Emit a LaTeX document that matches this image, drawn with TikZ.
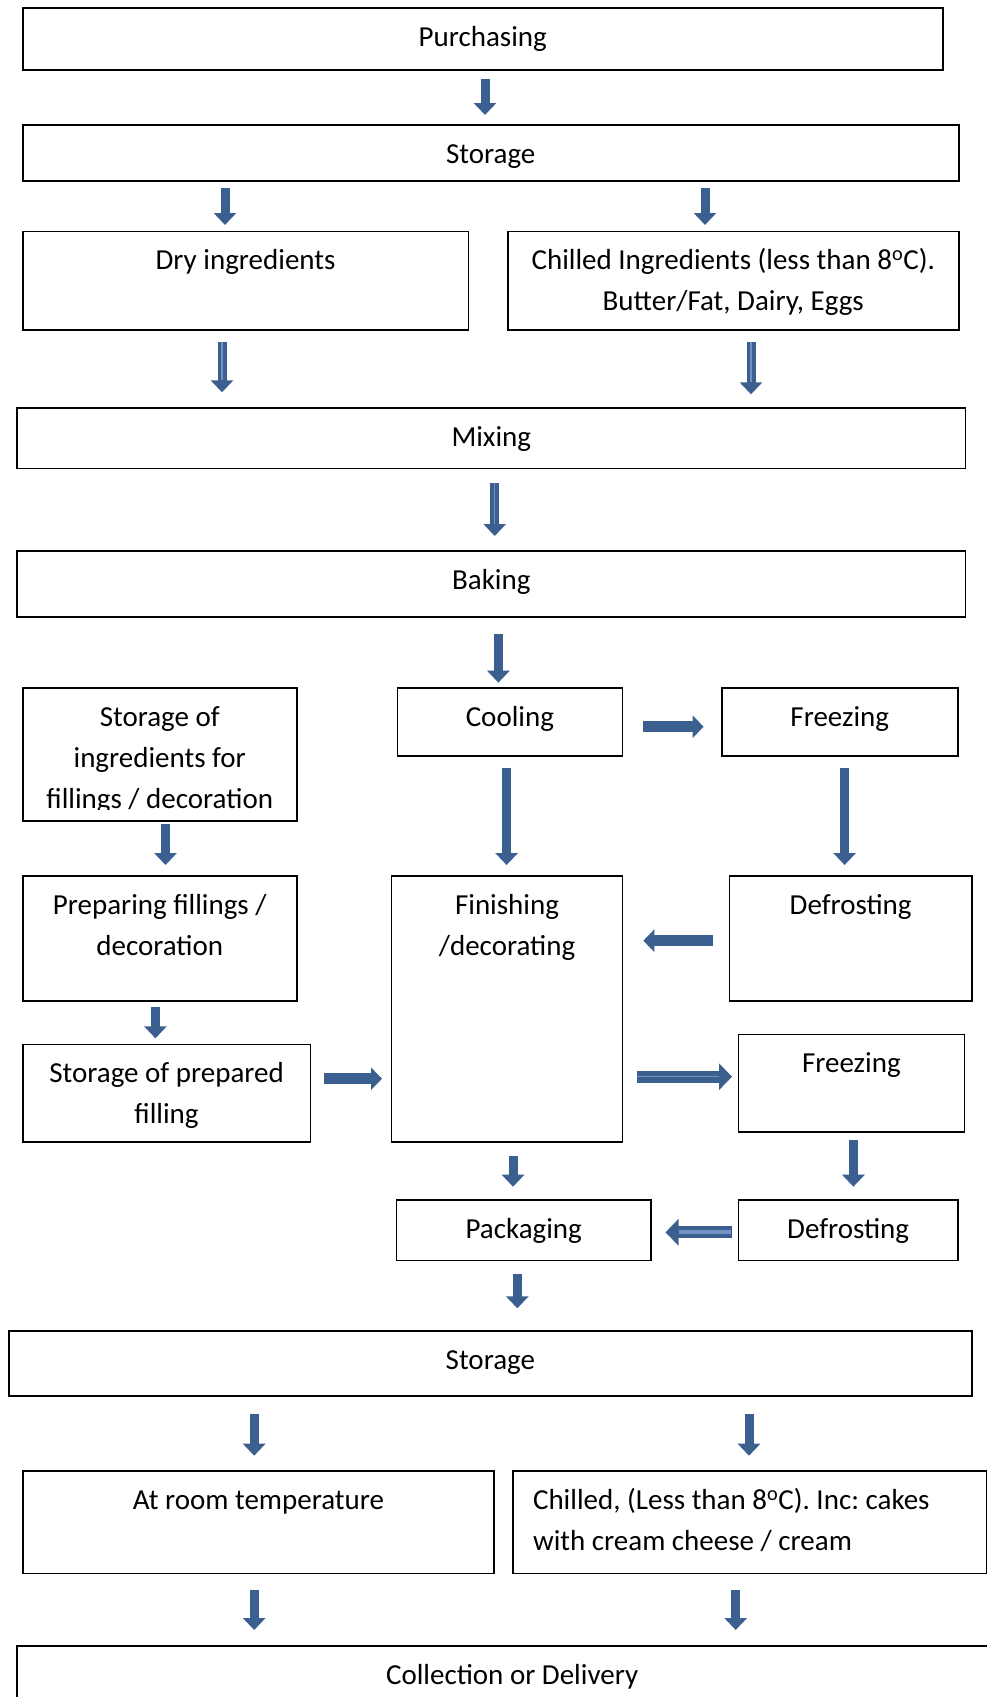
\documentclass[tikz,border=0pt]{standalone}
\usepackage{fontspec}
\setmainfont{Carlito}
\usetikzlibrary{arrows.meta}
\definecolor{ablue}{RGB}{59,95,143}
\definecolor{alight}{RGB}{112,146,196}
\frenchspacing
\newcommand\fb[6]{\node[boxst] (#1) at (#2,#3) {\parbox[t][#5pt][t]{#4pt}{#6}};}
\newcommand\fl{\rule{0pt}{38.5pt}}
\begin{document}
\begin{tikzpicture}[x=1pt,y=-1pt,
  boxst/.style={draw=black, line width=1.5pt, inner sep=0pt, anchor=north west, font=\fontsize{29pt}{41pt}\selectfont},
  barrow/.style={draw=ablue, line width=9pt, -{Triangle[width=22pt,length=12pt]}},
  harrow/.style={draw=ablue, line width=10.5pt, -{Triangle[width=22pt,length=11pt]}},
  warrow/.style={draw=ablue, line width=12pt, -{Triangle[width=26pt,length=13pt]}},
  stripe/.style={draw=alight, line width=1.5pt}]
\clip (0,0) rectangle (987,1697);
\fill[white] (0,0) rectangle (987,1697);
% boxes
\fb{purch}{22}{7}{920}{62}{\centering\fl Purchasing}
\fb{stor1}{22}{124}{936}{56}{\centering\fl Storage}
\fb{dry}{22}{230.7}{445.6}{98.6}{\centering\fl Dry ingredients}
\fb{chill}{507}{230.7}{451}{98.6}{\centering\fl Chilled Ingredients (less than 8\textsuperscript{o}C).\\Butter/Fat, Dairy, Eggs}
\fb{mix}{16.4}{407.3}{948.3}{60.4}{\centering\fl Mixing}
\fb{bake}{16.4}{550}{948.3}{66}{\centering\fl Baking}
\fb{sif}{22}{687}{274}{133}{\mbox{}}
\begin{scope}
\clip ([yshift=12pt]sif.south west) rectangle (sif.north east);
\node[boxst, draw=none] (siftext) at (sif.north west) {\parbox[t][133pt][t]{274pt}{\centering\fl Storage of\\ingredients for\\fillings / decoration}};
\end{scope}
\fb{cool}{396.5}{687}{225.3}{68.3}{\centering\fl Cooling}
\fb{frz1}{721}{687}{236}{68.3}{\centering\fl Freezing}
\fb{prep}{22}{875}{274}{125}{\centering\fl Preparing fillings /\\decoration}
\fb{fin}{390.8}{875}{231}{266.3}{\centering\fl Finishing\\/decorating}
\fb{def1}{728.8}{875}{242.2}{125}{\centering\fl Defrosting}
\fb{spf}{22}{1043.7}{287.6}{97.6}{\centering\fl Storage of prepared\\filling}
\fb{frz2}{737.6}{1033.7}{226}{97.3}{\centering\fl Freezing}
\fb{pack}{395.8}{1199.3}{254.2}{60.4}{\centering\fl Packaging}
\fb{def2}{737.6}{1199.3}{219.6}{60.4}{\centering\fl Defrosting}
\fb{stor2}{8.2}{1330}{962.8}{65}{\centering\fl Storage}
\fb{room}{22}{1470.3}{471.4}{102.4}{\centering\fl At room temperature}
\fb{chl2}{512.3}{1470.3}{473.5}{102.4}{\raggedright\leftskip=20pt\fl Chilled, (Less than 8\textsuperscript{o}C). Inc: cakes\\with cream cheese / cream}
\fb{coll}{16.4}{1645}{990}{80}{\centering\fl Collection or Delivery}
% arrow guide coordinates
\coordinate (x1) at (485,0);
\coordinate (x2) at (225,0);
\coordinate (x3) at (705,0);
\coordinate (x4) at (222,0);
\coordinate (x5) at (751,0);
\coordinate (x6) at (494.7,0);
\coordinate (x7) at (498.4,0);
\coordinate (y8) at (0,726.7);
\coordinate (x9) at (506.6,0);
\coordinate (x10) at (844.6,0);
\coordinate (x11) at (165.5,0);
\coordinate (y12) at (0,940.7);
\coordinate (x13) at (155.4,0);
\coordinate (y14) at (0,1078.7);
\coordinate (y15) at (0,1076.7);
\coordinate (x16) at (513,0);
\coordinate (x17) at (853.4,0);
\coordinate (y18) at (0,1232.3);
\coordinate (x19) at (517.3,0);
\coordinate (x20) at (254.2,0);
\coordinate (x21) at (749,0);
\coordinate (x22) at (254.2,0);
\coordinate (x23) at (735.7,0);
% arrows
\draw[barrow, shorten <=8pt, shorten >=9pt] (purch.south -| x1) -- (stor1.north -| x1);
\draw[barrow, shorten <=6pt, shorten >=5.7pt] (stor1.south -| x2) -- (dry.north -| x2);
\draw[barrow, shorten <=6pt, shorten >=5.7pt] (stor1.south -| x3) -- (chill.north -| x3);
\draw[barrow, shorten <=10.7pt, shorten >=15pt] (dry.south -| x4) -- (mix.north -| x4);
\draw[stripe, shorten <=10.7pt, shorten >=27pt] (dry.south -| x4) -- (mix.north -| x4);
\draw[barrow, shorten <=10.7pt, shorten >=13pt] (chill.south -| x5) -- (mix.north -| x5);
\draw[stripe, shorten <=10.7pt, shorten >=25pt] (chill.south -| x5) -- (mix.north -| x5);
\draw[barrow, shorten <=14pt, shorten >=14pt] (mix.south -| x6) -- (bake.north -| x6);
\draw[stripe, shorten <=14pt, shorten >=26pt] (mix.south -| x6) -- (bake.north -| x6);
\draw[barrow, shorten <=16.7pt, shorten >=4.3pt] (bake.south -| x7) -- (cool.north -| x7);
\draw[harrow, shorten <=20pt, shorten >=17.4pt] (cool.east |- y8) -- (frz1.west |- y8);
\draw[barrow, shorten <=10.7pt, shorten >=10pt] (cool.south -| x9) -- (fin.north -| x9);
\draw[barrow, shorten <=10.7pt, shorten >=10pt] (frz1.south -| x10) -- (def1.north -| x10);
\draw[barrow, shorten <=2.3pt, shorten >=10pt] (sif.south -| x11) -- (prep.north -| x11);
\draw[harrow, shorten <=15.8pt, shorten >=20pt] (def1.west |- y12) -- (fin.east |- y12);
\draw[barrow, shorten <=5pt, shorten >=5.4pt] (prep.south -| x13) -- (spf.north -| x13);
\draw[harrow, shorten <=12.4pt, shorten >=8.8pt] (spf.east |- y14) -- (fin.west |- y14);
\draw[warrow, shorten <=13.8pt, shorten >=5.6pt] (fin.east |- y15) -- (frz2.west |- y15);
\draw[stripe, shorten <=13.8pt, shorten >=18.6pt] (fin.east |- y15) -- (frz2.west |- y15);
\draw[barrow, shorten <=13pt, shorten >=12.6pt] (fin.south -| x16) -- (pack.north -| x16);
\draw[barrow, shorten <=7.3pt, shorten >=12.6pt] (frz2.south -| x17) -- (def2.north -| x17);
\draw[warrow, shorten <=5.6pt, shorten >=14pt] (def2.west |- y18) -- (pack.east |- y18);
\draw[stripe, line width=4pt, shorten <=7pt, shorten >=27pt] (def2.west |- y18) -- (pack.east |- y18);
\draw[barrow, shorten <=13pt, shorten >=21.7pt] (pack.south -| x19) -- (stor2.north -| x19);
\draw[barrow, shorten <=17.7pt, shorten >=14.6pt] (stor2.south -| x20) -- (room.north -| x20);
\draw[barrow, shorten <=17.7pt, shorten >=14.6pt] (stor2.south -| x21) -- (chl2.north -| x21);
\draw[barrow, shorten <=15.6pt, shorten >=15pt] (room.south -| x22) -- (coll.north -| x22);
\draw[barrow, shorten <=15.6pt, shorten >=15pt] (chl2.south -| x23) -- (coll.north -| x23);
\end{tikzpicture}
\end{document}
